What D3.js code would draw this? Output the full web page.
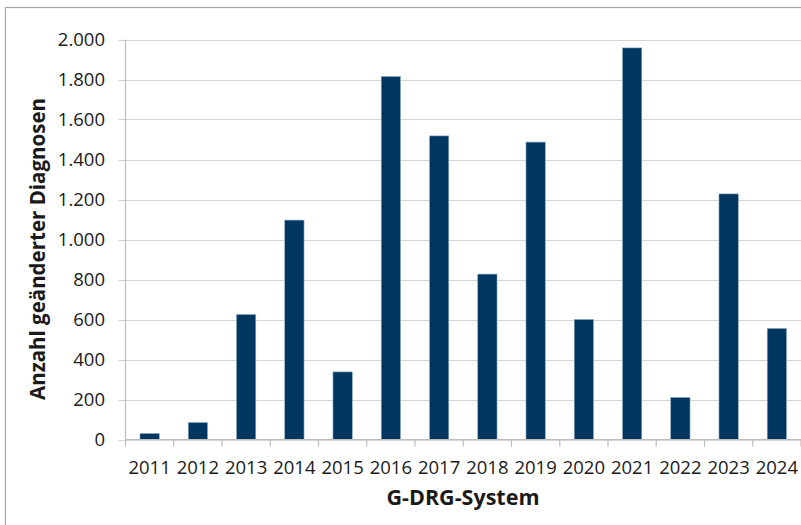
<!DOCTYPE html>
<html>
<head>
<meta charset="utf-8">
<script src="https://cdn.jsdelivr.net/npm/d3@7"></script>
<style>
  body { margin: 0; background: #fff; }
  text { font-family: "Open Sans", sans-serif; fill: #1a1a1a; }
</style>
</head>
<body>
<svg id="chart" width="801" height="525"></svg>
<script>
var years = ['2011', '2012', '2013', '2014', '2015', '2016', '2017', '2018', '2019', '2020', '2021', '2022', '2023', '2024'];
var changed = [30, 85, 625, 1097, 338, 1815, 1518, 827, 1487, 600, 1958, 210, 1228, 555];
var yTicks = [0, 200, 400, 600, 800, 1000, 1200, 1400, 1600, 1800, 2000];

var svg = d3.select('#chart');
var plotL = 125.5, plotR = 801, plotT = 39.5, plotB = 439.5;

// outer frame
svg.append('rect')
  .attr('x', 5.5).attr('y', 7.5)
  .attr('width', 820).attr('height', 540)
  .attr('fill', 'none').attr('stroke', '#a6a6a6').attr('stroke-width', 1.2);

var x = d3.scaleBand().domain(years).range([plotL, plotR]).paddingInner(0.6).paddingOuter(0.3);
var y = d3.scaleLinear().domain([0, 2000]).range([plotB, plotT]);

// gridlines
svg.append('g').selectAll('line')
  .data(yTicks)
  .enter().append('line')
  .attr('x1', plotL - 7).attr('x2', plotR)
  .attr('y1', function(d) { return Math.round(y(d)) + 0.5; })
  .attr('y2', function(d) { return Math.round(y(d)) + 0.5; })
  .attr('stroke', '#d4d4d4').attr('stroke-width', 1.2);

// y axis labels
svg.append('g').selectAll('text')
  .data(yTicks)
  .enter().append('text')
  .attr('x', 105)
  .attr('y', function(d) { return y(d); })
  .attr('dy', '0.36em')
  .attr('text-anchor', 'end')
  .style('font-size', '18.5px')
  .text(function(d) { return d3.format(',')(d).replace(/,/g, '.'); });

// bars
svg.append('g').selectAll('rect')
  .data(changed)
  .enter().append('rect')
  .attr('x', function(d, i) { return x(years[i]); })
  .attr('width', x.bandwidth())
  .attr('y', function(d) { return y(d); })
  .attr('height', function(d) { return plotB - y(d); })
  .attr('fill', '#00365f')
  .attr('stroke', '#8fa9c4').attr('stroke-width', 0.6);

// axis lines
svg.append('line')
  .attr('x1', plotL).attr('x2', plotL).attr('y1', plotT).attr('y2', plotB)
  .attr('stroke', '#bdbdbd').attr('stroke-width', 1.2);
svg.append('line')
  .attr('x1', plotL).attr('x2', plotR).attr('y1', plotB).attr('y2', plotB)
  .attr('stroke', '#bdbdbd').attr('stroke-width', 1.2);

// x ticks between categories
var step = x.step();
svg.append('g').selectAll('line')
  .data(d3.range(years.length + 1))
  .enter().append('line')
  .attr('x1', function(i) { return plotL + i * step; })
  .attr('x2', function(i) { return plotL + i * step; })
  .attr('y1', plotB).attr('y2', plotB + 7)
  .attr('stroke', '#bdbdbd').attr('stroke-width', 1.2);

// x labels
svg.append('g').selectAll('text')
  .data(years)
  .enter().append('text')
  .attr('x', function(d) { return x(d) + x.bandwidth() / 2; })
  .attr('y', 474)
  .attr('text-anchor', 'middle')
  .style('font-size', '18.5px')
  .text(function(d) { return d; });

// axis titles
svg.append('text')
  .attr('x', 463).attr('y', 505)
  .attr('text-anchor', 'middle')
  .style('font-size', '21.5px').style('font-weight', 'bold')
  .text('G-DRG-System');

svg.append('text')
  .attr('transform', 'translate(45,249) rotate(-90)')
  .attr('text-anchor', 'middle')
  .style('font-size', '20.5px').style('font-weight', 'bold')
  .text('Anzahl geänderter Diagnosen');
</script>
</body>
</html>
